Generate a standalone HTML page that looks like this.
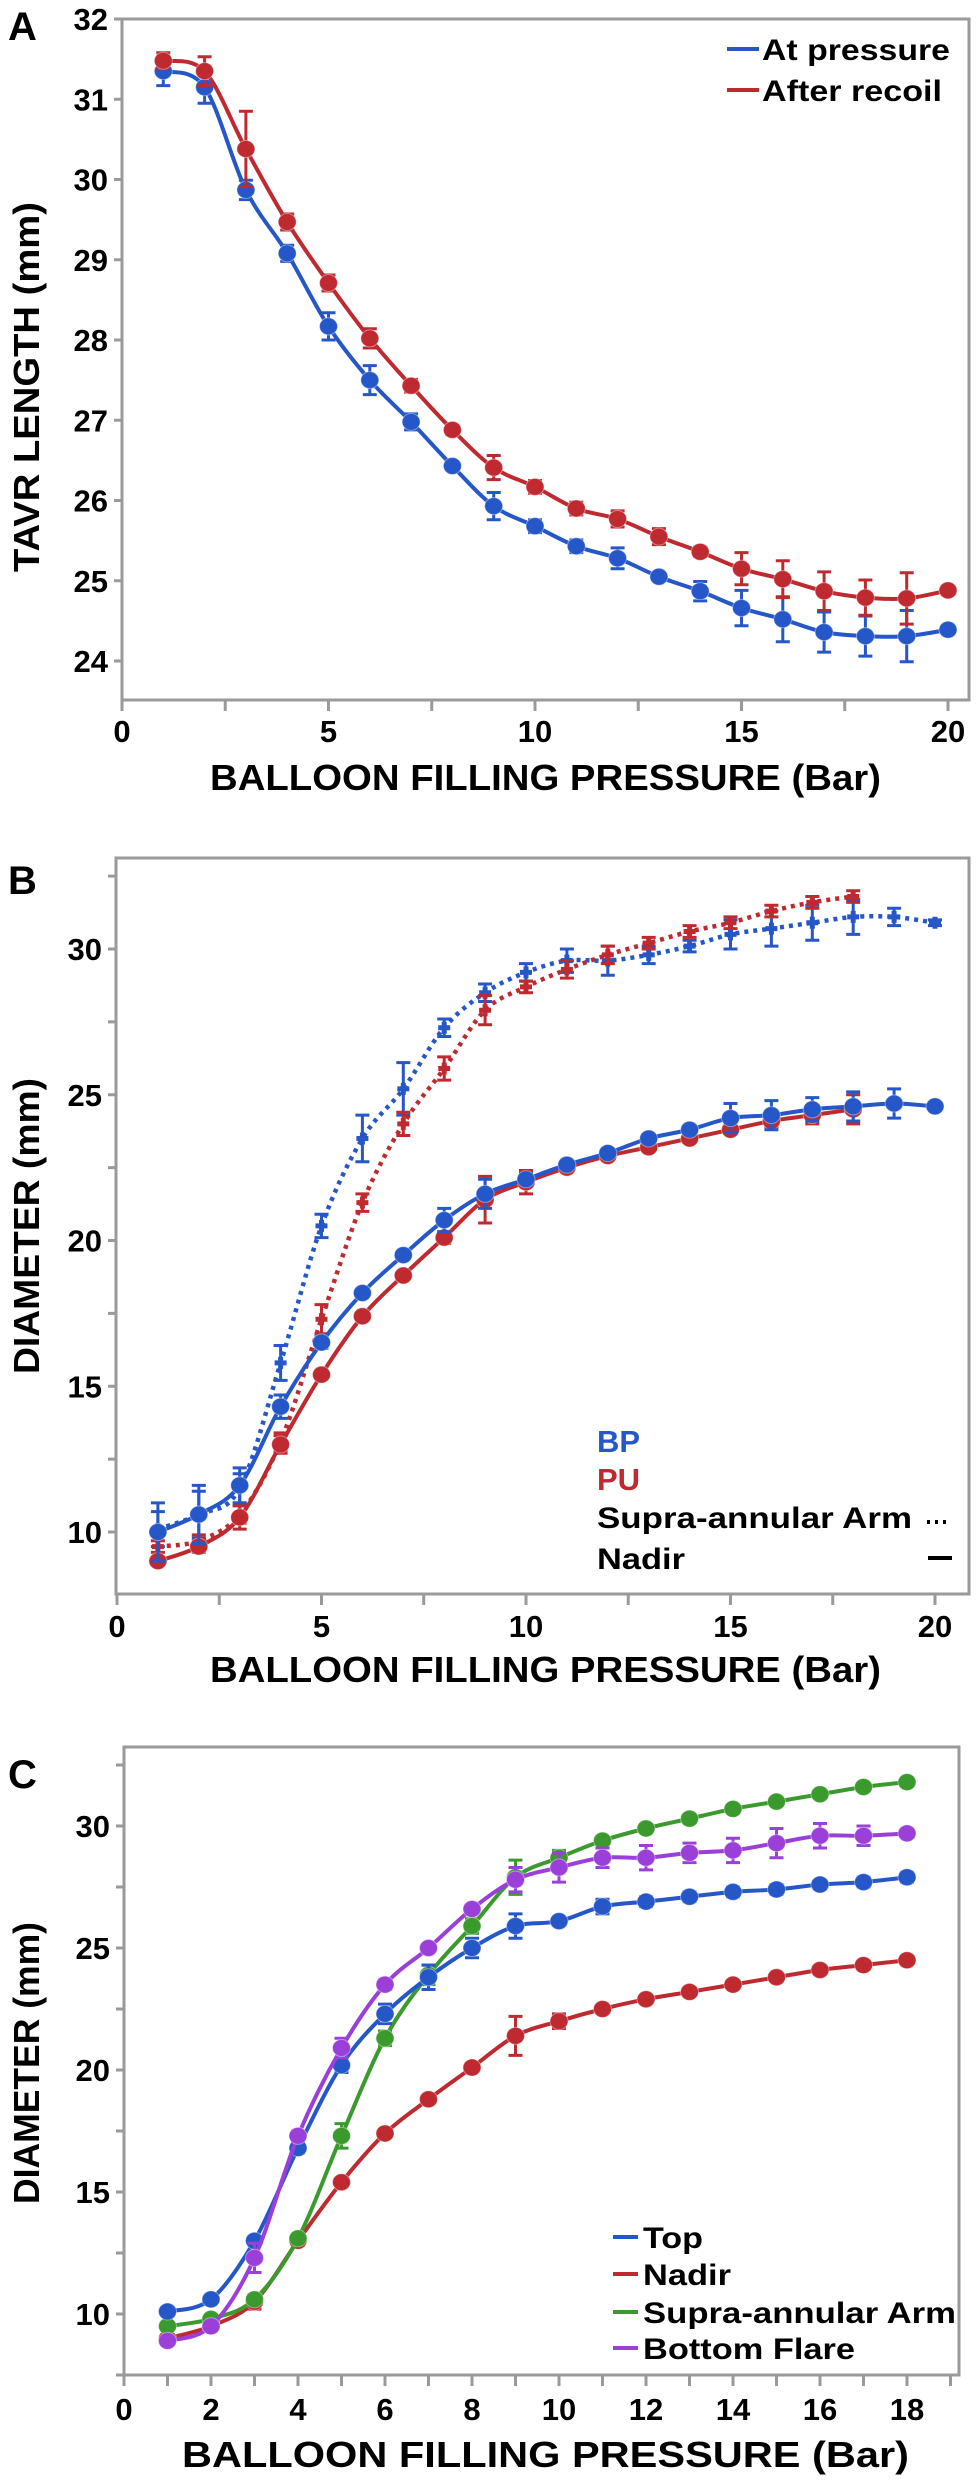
<!DOCTYPE html>
<html><head><meta charset="utf-8"><style>
html,body{margin:0;padding:0;background:#fff}
svg{display:block}
text{font-family:"Liberation Sans",Arial,sans-serif;font-weight:bold;fill:#000}
</style></head><body>
<svg id="fig" width="978" height="2481" viewBox="0 0 978 2481" xmlns="http://www.w3.org/2000/svg"></svg>
<script>
// ---------- Panel A data ----------
const pressureA = [1,2,3,4,5,6,7,8,9,10,11,12,13,14,15,16,17,18,19,20];
const atPressure = [31.35,31.15,29.87,29.08,28.17,27.5,26.98,26.43,25.93,25.68,25.43,25.28,25.05,24.87,24.66,24.52,24.36,24.31,24.31,24.39];
const atPressureErr = [0.18,0.2,0.12,0.1,0.17,0.18,0.1,0.05,0.17,0.08,0.08,0.13,0.05,0.12,0.22,0.28,0.25,0.25,0.32,0.05];
const afterRecoil = [31.48,31.35,30.38,29.47,28.71,28.02,27.43,26.88,26.41,26.17,25.9,25.77,25.55,25.36,25.15,25.02,24.87,24.79,24.78,24.88];
const afterRecoilErr = [0.1,0.18,0.47,0.1,0.1,0.12,0.08,0.06,0.15,0.08,0.08,0.1,0.1,0.06,0.2,0.23,0.24,0.22,0.32,0.05];
const yTicksA = [24,25,26,27,28,29,30,31,32];
const xTicksA = [0,5,10,15,20];
// ---------- Panel B data ----------
const pressureB20 = [1,2,3,4,5,6,7,8,9,10,11,12,13,14,15,16,17,18,19,20];
const pressureB18 = [1,2,3,4,5,6,7,8,9,10,11,12,13,14,15,16,17,18];
const bpNadir = [10.0,10.6,11.6,14.3,16.5,18.2,19.5,20.7,21.6,22.1,22.6,23.0,23.5,23.8,24.2,24.3,24.5,24.6,24.7,24.6];
const bpNadirErr = [1.0,1.0,0.6,0.4,0.2,0.1,0.1,0.4,0.5,0.2,0.1,0.1,0.1,0.1,0.5,0.5,0.4,0.5,0.5,0.05];
const puNadir = [9.0,9.5,10.5,13.0,15.4,17.4,18.8,20.1,21.4,22.0,22.5,22.9,23.2,23.5,23.8,24.1,24.3,24.5];
const puNadirErr = [0.1,0.2,0.4,0.3,0.1,0.1,0.1,0.2,0.8,0.4,0.1,0.1,0.1,0.1,0.1,0.2,0.3,0.5];
const bpSupra = [10.1,10.6,11.5,15.8,20.5,23.5,25.2,27.3,28.5,29.2,29.6,29.6,29.8,30.1,30.5,30.7,30.9,31.1,31.1,30.9];
const bpSupraErr = [0.6,0.8,0.5,0.6,0.4,0.8,0.9,0.3,0.3,0.3,0.4,0.5,0.3,0.2,0.5,0.6,0.6,0.6,0.3,0.1];
const puSupra = [9.5,9.7,10.6,13.1,17.3,21.3,24.0,25.9,27.9,28.7,29.3,29.8,30.2,30.6,30.9,31.3,31.6,31.8];
const puSupraErr = [0.2,0.2,0.3,0.3,0.5,0.3,0.4,0.4,0.5,0.2,0.3,0.3,0.2,0.2,0.2,0.2,0.2,0.2];
const yTicksB = [10,15,20,25,30];
const xTicksB = [0,5,10,15,20];
// ---------- Panel C data ----------
const pressureC = [1,2,3,4,5,6,7,8,9,10,11,12,13,14,15,16,17,18];
const topC = [10.1,10.6,13.0,16.8,20.2,22.3,23.8,25.0,25.9,26.1,26.7,26.9,27.1,27.3,27.4,27.6,27.7,27.9];
const topCErr = [0.1,0.1,0.1,0.2,0.3,0.4,0.5,0.4,0.5,0.1,0.3,0.2,0.2,0.2,0.2,0.1,0.2,0.2];
const nadirC = [9.0,9.5,10.5,13.0,15.4,17.4,18.8,20.1,21.4,22.0,22.5,22.9,23.2,23.5,23.8,24.1,24.3,24.5];
const nadirCErr = [0.1,0.2,0.3,0.1,0.1,0.1,0.1,0.1,0.8,0.3,0.1,0.1,0.1,0.1,0.1,0.1,0.1,0.1];
const supraC = [9.5,9.8,10.6,13.1,17.3,21.3,23.9,25.9,27.9,28.7,29.4,29.9,30.3,30.7,31.0,31.3,31.6,31.8];
const supraCErr = [0.1,0.1,0.1,0.1,0.5,0.3,0.4,0.3,0.7,0.3,0.1,0.1,0.1,0.1,0.1,0.1,0.1,0.1];
const flareC = [8.9,9.5,12.3,17.3,20.9,23.5,25.0,26.6,27.8,28.3,28.7,28.7,28.9,29.0,29.3,29.6,29.6,29.7];
const flareCErr = [0.1,0.1,0.6,0.2,0.4,0.2,0.1,0.1,0.5,0.6,0.4,0.5,0.4,0.5,0.6,0.5,0.4,0.1];
const yTicksC = [10,15,20,25,30];
const xTicksC = [0,2,4,6,8,10,12,14,16,18];

const BLUE="#2557c9", RED="#be2a30", GREEN="#3b9a2e", PURPLE="#9a3fd8";
const NS="http://www.w3.org/2000/svg";
const svg=document.getElementById('fig');
function mk(tag,attrs,parent){const e=document.createElementNS(NS,tag);for(const k in attrs)e.setAttribute(k,attrs[k]);(parent||svg).appendChild(e);return e;}
function txt(s,attrs,parent){const e=mk('text',attrs,parent);e.textContent=s;return e;}
function smooth(pts){let d=`M${pts[0][0]},${pts[0][1]}`;for(let i=0;i<pts.length-1;i++){const p0=pts[Math.max(0,i-1)],p1=pts[i],p2=pts[i+1],p3=pts[Math.min(pts.length-1,i+2)];const c1x=p1[0]+(p2[0]-p0[0])/6,c1y=p1[1]+(p2[1]-p0[1])/6,c2x=p2[0]-(p3[0]-p1[0])/6,c2y=p2[1]-(p3[1]-p1[1])/6;d+=`C${c1x},${c1y} ${c2x},${c2y} ${p2[0]},${p2[1]}`;}return d;}

function panel(P){
  const g=mk('g',{});
  
  
  const sx=v=>P.x0+(v-P.xmin)*(P.x1-P.x0)/(P.xmax-P.xmin);
  const sy=v=>P.y0+(v-P.ymin)*(P.y1-P.y0)/(P.ymax-P.ymin);
  const fr=mk('rect',{x:P.L,y:P.T,width:P.R-P.L,height:P.B-P.T,fill:'none',stroke:'#9a9a9a','stroke-width':3},g);
  
  
  // y ticks
  P.yMinor.forEach(v=>{const t=mk('line',{x1:P.L-8,x2:P.L,y1:sy(v),y2:sy(v),stroke:'#9a9a9a','stroke-width':3},g);
    
    });
  P.yTicks.forEach(v=>{const t=txt(String(v),{x:P.L-14,y:sy(v)+11,'text-anchor':'end','font-size':31},g);
    
    });
  P.xMinor.forEach(v=>{const t=mk('line',{x1:sx(v),x2:sx(v),y1:P.B,y2:P.B+11,stroke:'#9a9a9a','stroke-width':3},g);
    
    });
  P.xTicks.forEach(v=>{const t=txt(String(v),{x:sx(v),y:P.xlabY+11,'text-anchor':'middle','font-size':31},g);
    
    });
  const xt=txt('BALLOON FILLING PRESSURE (Bar)',{x:P.xtX,y:P.xtY+13,'font-size':36,textLength:P.xtW,lengthAdjust:'spacingAndGlyphs'},g);
  
  
  const yt=txt(P.ytitle,{x:0,y:0,'font-size':36,'text-anchor':'middle',textLength:P.ytW,lengthAdjust:'spacingAndGlyphs',transform:`translate(39,${P.ytY}) rotate(-90)`},g);
  
  
  const pl=txt(P.letter,{x:8,y:P.letterY,'font-size':40},g);
  
  
  P.series.forEach(s=>{
    const sg=mk('g',{},g);
    
    
    const pts=s.xs.map((x,i)=>[sx(x),sy(s.ys[i])]);
    const ln=mk('path',{d:smooth(pts),fill:'none',stroke:s.color,'stroke-width':s.dot?4.5:4,'stroke-dasharray':s.dot?'4 5':'none'},sg);
    
    
    s.xs.forEach((x,i)=>{
      const cx=sx(x),y=s.ys[i],e=s.err[i];
      const eb=mk('path',{d:`M${cx},${sy(y+e)}V${sy(y-e)}M${cx-7},${sy(y+e)}H${cx+7}M${cx-7},${sy(y-e)}H${cx+7}`,stroke:s.color,'stroke-width':3,fill:'none'},sg);
      
      
      let m;
      if(s.dot){m=mk('path',{d:`M${cx-6},${sy(y)}H${cx+6}M${cx},${sy(y)-6}V${sy(y)+6}`,stroke:s.color,'stroke-width':5},sg);}
      else{m=mk('ellipse',{cx:cx,cy:sy(y),rx:9,ry:8.5,fill:s.color,stroke:'#fff','stroke-opacity':0.4,'stroke-width':1},sg);}
      
      
    });
  });
  return g;
}
const range=(a,b,s)=>{const r=[];for(let v=a;v<=b+1e-9;v+=s)r.push(+v.toFixed(2));return r;};

panel({name:'panel-a-chart',L:122,R:969,T:19,B:700,xmin:0,xmax:20,x0:122,x1:948,ymin:24,ymax:32,y0:661,y1:19,
  yTicks:yTicksA,yMinor:yTicksA,xTicks:xTicksA,xMinor:range(0,20,2.5),xlabY:731,xtX:210,xtY:777,xtW:671,
  ytitle:'TAVR LENGTH (mm)',ytY:387,ytW:370,letter:'A',letterY:40,
  series:[{name:'series-at-pressure',xs:pressureA,ys:atPressure,err:atPressureErr,color:BLUE},
          {name:'series-after-recoil',xs:pressureA,ys:afterRecoil,err:afterRecoilErr,color:RED}]});
panel({name:'panel-b-chart',L:116,R:969,T:858,B:1594,xmin:0,xmax:20,x0:117,x1:935,ymin:10,ymax:30,y0:1532,y1:949,
  yTicks:yTicksB,yMinor:range(10,32.5,2.5),xTicks:xTicksB,xMinor:range(0,20,2.5),xlabY:1626,xtX:210,xtY:1669,xtW:671,
  ytitle:'DIAMETER (mm)',ytY:1226,ytW:296,letter:'B',letterY:894,
  series:[{name:'series-bp-supra',xs:pressureB20,ys:bpSupra,err:bpSupraErr,color:BLUE,dot:true},
          {name:'series-pu-supra',xs:pressureB18,ys:puSupra,err:puSupraErr,color:RED,dot:true},
          {name:'series-pu-nadir',xs:pressureB18,ys:puNadir,err:puNadirErr,color:RED},
          {name:'series-bp-nadir',xs:pressureB20,ys:bpNadir,err:bpNadirErr,color:BLUE}]});
panel({name:'panel-c-chart',L:124,R:959,T:1747,B:2375,xmin:0,xmax:18,x0:124,x1:907,ymin:10,ymax:30,y0:2314,y1:1826,
  yTicks:yTicksC,yMinor:range(7.5,32.5,2.5),xTicks:xTicksC,xMinor:range(0,19,1),xlabY:2409,xtX:182,xtY:2454,xtW:727,
  ytitle:'DIAMETER (mm)',ytY:2063,ytW:282,letter:'C',letterY:1788,
  series:[{name:'series-nadir',xs:pressureC,ys:nadirC,err:nadirCErr,color:RED},
          {name:'series-supra-annular-arm',xs:pressureC,ys:supraC,err:supraCErr,color:GREEN},
          {name:'series-top',xs:pressureC,ys:topC,err:topCErr,color:BLUE},
          {name:'series-bottom-flare',xs:pressureC,ys:flareC,err:flareCErr,color:PURPLE}]});

// Legends
function legItem(label,color,x,y,tx,w,sw){
  const g=mk('g',{});
  
  
  if(sw) mk('line',{x1:sw[0],x2:sw[1],y1:y,y2:y,stroke:color,'stroke-width':4},g);
  txt(label,{x:tx,y:y+11,'font-size':30,fill:'#000',textLength:w,lengthAdjust:'spacingAndGlyphs'},g);
}
legItem('At pressure',BLUE,0,49,762,188,[727,759]);
legItem('After recoil',RED,0,90,762,180,[727,759]);
(function(){
  const g=mk('g',{});
  
  
  const a=txt('BP',{x:597,y:1452,'font-size':31,style:'fill:'+BLUE},g);
  const b=txt('PU',{x:597,y:1490,'font-size':31,style:'fill:'+RED},g);
  txt('Supra-annular Arm',{x:597,y:1528,'font-size':30,textLength:315,lengthAdjust:'spacingAndGlyphs'},g);
  mk('line',{x1:927,x2:951,y1:1522,y2:1522,stroke:'#000','stroke-width':4,'stroke-dasharray':'3 5'},g);
  txt('Nadir',{x:597,y:1569,'font-size':30,textLength:88,lengthAdjust:'spacingAndGlyphs'},g);
  mk('line',{x1:928,x2:952,y1:1558,y2:1558,stroke:'#000','stroke-width':4},g);
})();
legItem('Top',BLUE,0,2237,643,60,[613,638]);
legItem('Nadir',RED,0,2274,643,88,[613,638]);
legItem('Supra-annular Arm',GREEN,0,2312,643,313,[613,638]);
legItem('Bottom Flare',PURPLE,0,2348,643,212,[613,638]);
</script>
</body></html>
